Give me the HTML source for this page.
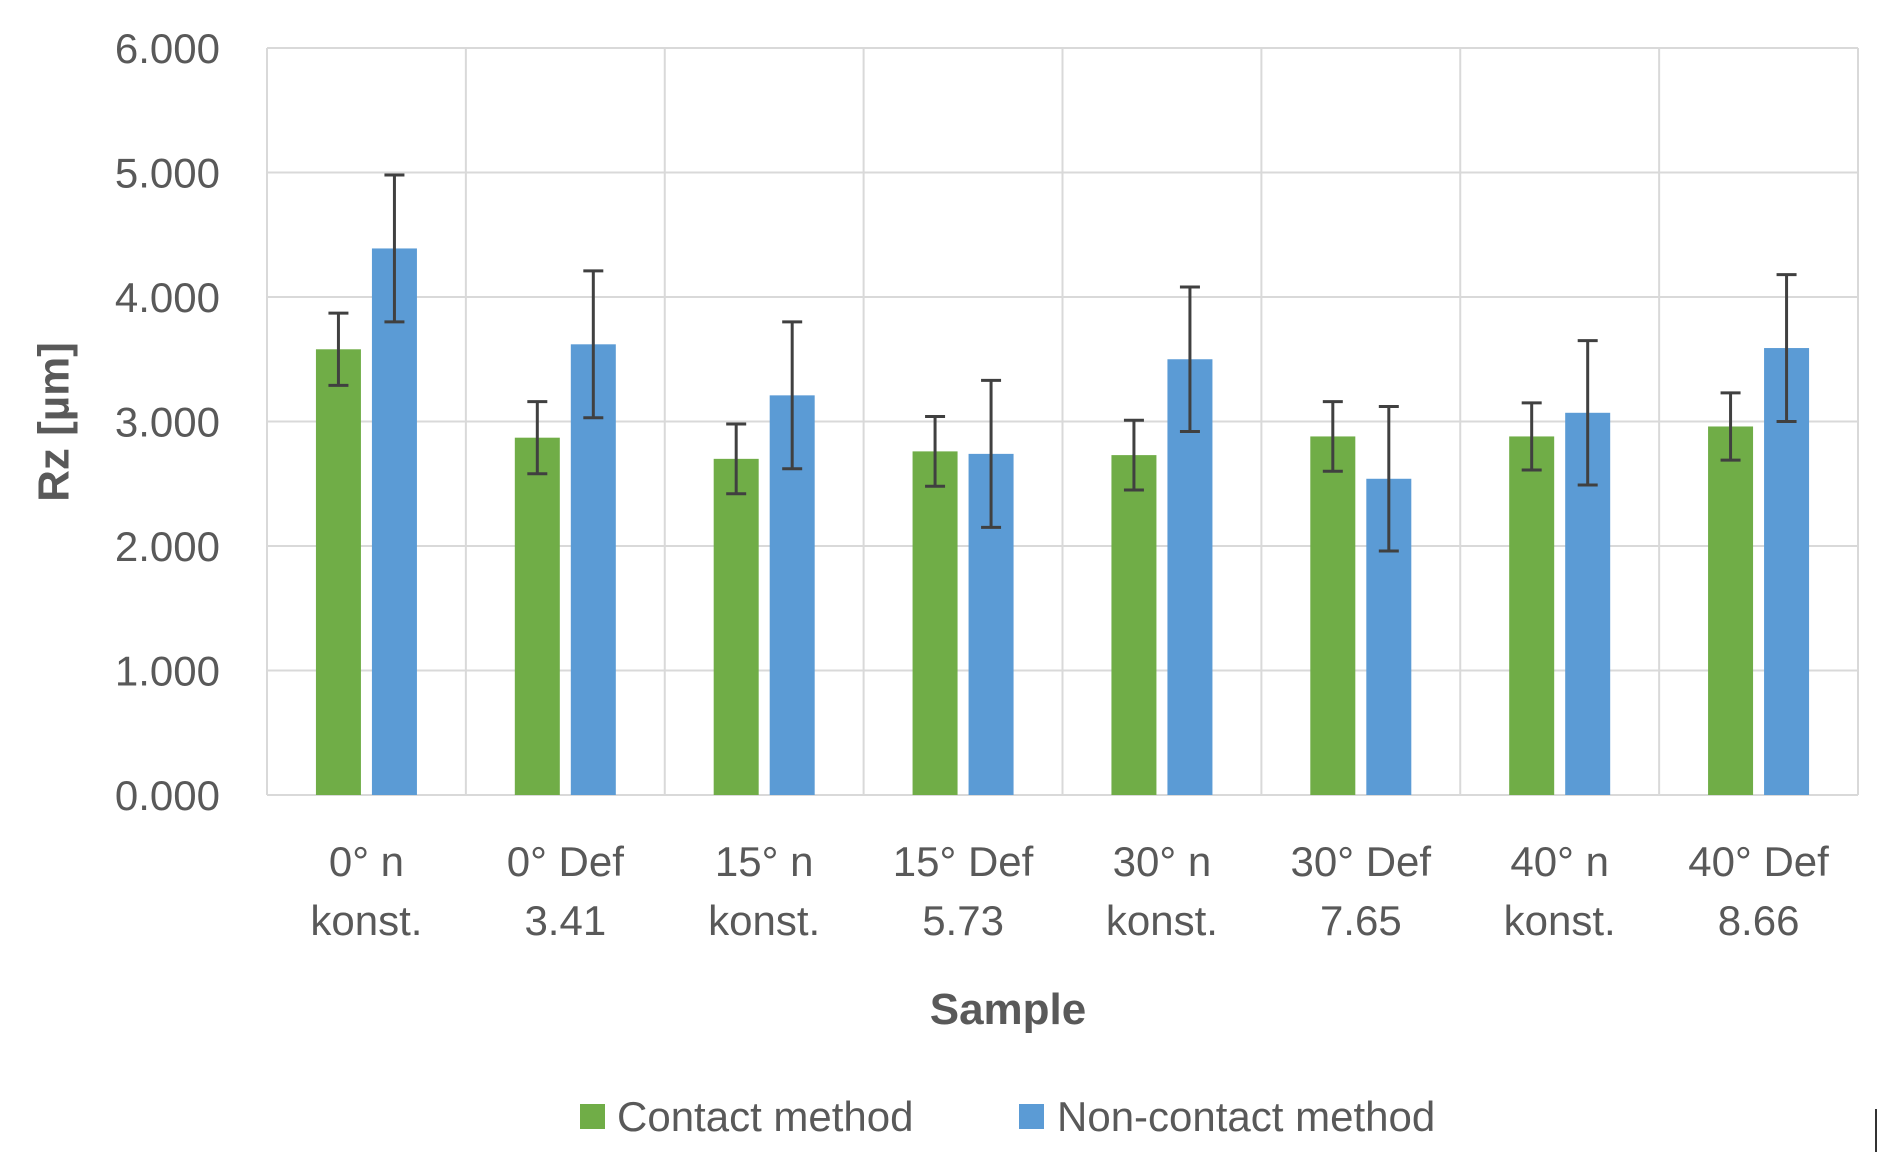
<!DOCTYPE html>
<html><head><meta charset="utf-8"><style>
html,body{margin:0;padding:0;background:#fff;}
svg{display:block;font-family:"Liberation Sans",sans-serif;}
</style></head><body>
<svg id="chart" width="1880" height="1157" viewBox="0 0 1880 1157">
<g id="grid"></g>
<g id="bars"></g>
<g id="ticks"></g>
<g id="cats"></g>
<text x="54" y="422" transform="rotate(-90 54 422)" text-anchor="middle" dominant-baseline="central" font-size="44" font-weight="bold" fill="#595959">Rz [µm]</text>
<text x="1008" y="1024" text-anchor="middle" font-size="44" font-weight="bold" fill="#595959">Sample</text>
<g>
<g>
<rect x="580" y="1104" width="25" height="25" fill="#70ad47"></rect>
<text x="617" y="1131" font-size="42" fill="#595959">Contact method</text></g>
<g>
<rect x="1019" y="1104" width="25" height="25" fill="#5b9bd5"></rect>
<text x="1057" y="1131" font-size="42" fill="#595959">Non-contact method</text></g>
</g>
<line x1="1876" y1="1109" x2="1876" y2="1152" stroke="#333" stroke-width="2"></line>
</svg>
<script>
const categories1 = ["0° n","0° Def","15° n","15° Def","30° n","30° Def","40° n","40° Def"];
const categories2 = ["konst.","3.41","konst.","5.73","konst.","7.65","konst.","8.66"];
const contactValues = [3.58,2.87,2.70,2.76,2.73,2.88,2.88,2.96];
const contactErrors = [0.29,0.29,0.28,0.28,0.28,0.28,0.27,0.27];
const nonContactValues = [4.39,3.62,3.21,2.74,3.50,2.54,3.07,3.59];
const nonContactErrors = [0.59,0.59,0.59,0.59,0.58,0.58,0.58,0.59];
const tickLabels = ["0.000","1.000","2.000","3.000","4.000","5.000","6.000"];
const tickValues = [0,1,2,3,4,5,6];

const NS="http://www.w3.org/2000/svg";
const L=267,R=1858,T=48,B=795,YMAX=6;
const yS=v=>B-(v/YMAX)*(B-T);
const bw=(R-L)/categories1.length;
const xC=i=>L+bw*(i+0.5);
function mk(tag,attrs,parent){const e=document.createElementNS(NS,tag);for(const k in attrs)e.setAttribute(k,attrs[k]);parent.appendChild(e);return e;}
const grid=document.getElementById('grid'),bars=document.getElementById('bars'),ticks=document.getElementById('ticks'),cats=document.getElementById('cats');
tickValues.forEach((v,i)=>{
  const g=mk('line',{x1:L,x2:R,y1:yS(v),y2:yS(v),stroke:'#d9d9d9','stroke-width':2},grid);
  
  
  const t=mk('text',{x:220,y:yS(v)+15,'text-anchor':'end','font-size':42,fill:'#595959'},ticks);
  t.textContent=tickLabels[i];
  
  
});
for(let i=0;i<=categories1.length;i++){
  const x=L+bw*i;
  const v=mk('line',{x1:x,x2:x,y1:T,y2:B,stroke:'#d9d9d9','stroke-width':2},grid);
  
  
}
const W=45,GAP=11;
function errBar(x,v,e,name){
  const g=mk('g',{stroke:'#404040','stroke-width':3},bars);
  
  
  mk('line',{x1:x,x2:x,y1:yS(v+e),y2:yS(v-e)},g);
  mk('line',{x1:x-10,x2:x+10,y1:yS(v+e),y2:yS(v+e)},g);
  mk('line',{x1:x-10,x2:x+10,y1:yS(v-e),y2:yS(v-e)},g);
}
categories1.forEach((c,i)=>{
  const cx=xC(i);
  const gx=cx-GAP/2-W, bx=cx+GAP/2;
  const r1=mk('rect',{x:gx,y:yS(contactValues[i]),width:W,height:B-yS(contactValues[i]),fill:'#70ad47'},bars);
  
  
  const r2=mk('rect',{x:bx,y:yS(nonContactValues[i]),width:W,height:B-yS(nonContactValues[i]),fill:'#5b9bd5'},bars);
  
  
  errBar(gx+W/2,contactValues[i],contactErrors[i],'error-bar-contact-'+i);
  errBar(bx+W/2,nonContactValues[i],nonContactErrors[i],'error-bar-non-contact-'+i);
  const t=mk('text',{x:cx,'text-anchor':'middle','font-size':42,fill:'#595959'},cats);
  
  
  mk('tspan',{x:cx,y:876},t).textContent=c;
  mk('tspan',{x:cx,y:935},t).textContent=categories2[i];
});
</script>
</body></html>
